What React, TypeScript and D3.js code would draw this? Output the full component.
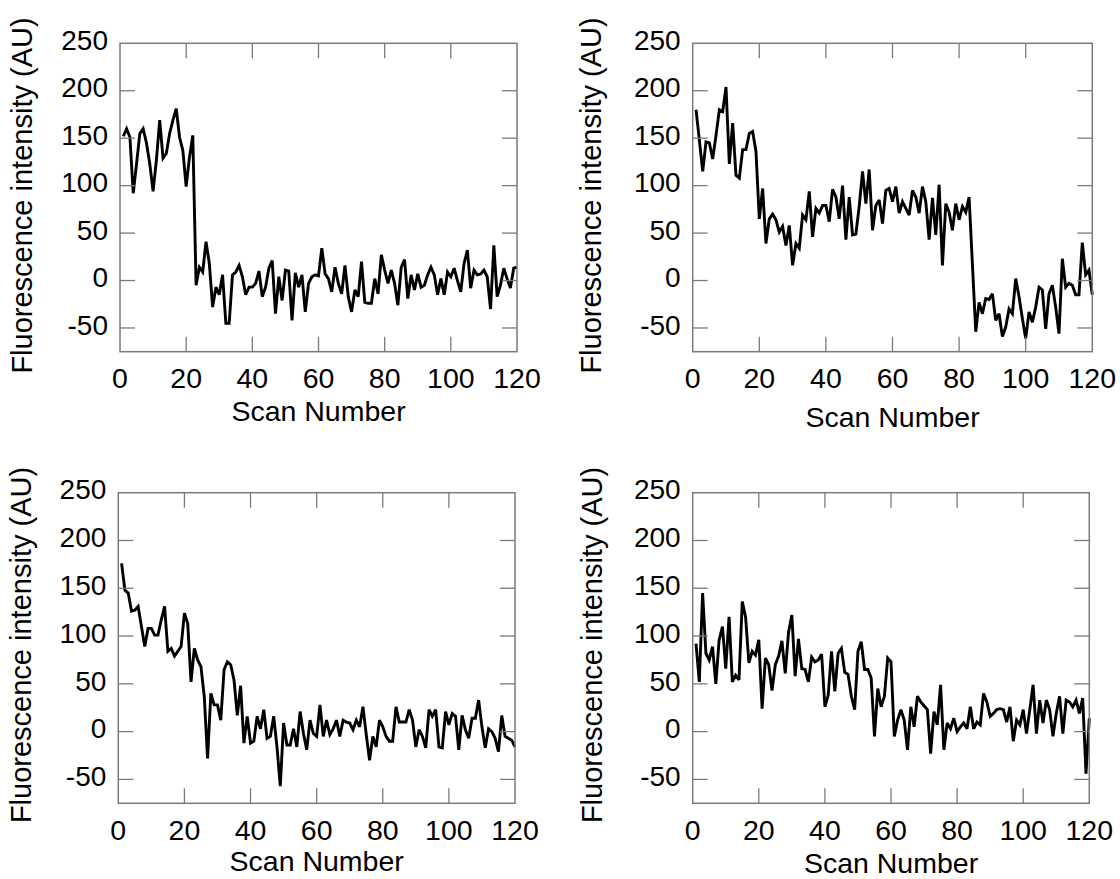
import React from "react";
import * as d3 from "d3";

// Scan numbers 1..120
const scans: number[] = d3.range(1, 121);

const panel1: number[] = [
  152, 160, 151, 92, 123, 155, 160, 145, 123, 94, 127, 169, 129, 134, 155, 169, 181, 151, 137, 99,
  130, 153, -5, 14, 9, 41, 18, -28, -7, -15, 6, -45, -45, 6, 9, 16, 4, -15, -7, -7,
  -3, 10, -17, -7, 13, 21, -35, 4, -21, 11, 10, -42, 8, -7, 6, -33, -3, 4, 6, 5,
  34, 7, 2, -12, 14, -3, -14, 16, -17, -33, -10, -17, 20, -23, -24, -24, 2, -14, 27, 11,
  -3, 11, -3, -26, 14, 22, -19, 6, -10, 7, -7, -5, 6, 14, 6, -15, 2, -15, 9, 4,
  13, 0, -12, 18, 32, -8, 11, 6, 7, 11, 4, -30, 37, -17, -5, 13, 2, -8, 13, 14,
];

const panel2: number[] = [
  180, 148, 115, 146, 145, 128, 153, 180, 178, 204, 123, 166, 111, 108, 138, 138, 155, 157, 136, 65,
  97, 39, 65, 70, 64, 51, 57, 37, 58, 16, 39, 34, 69, 64, 94, 46, 76, 71, 79, 79,
  62, 96, 88, 65, 100, 43, 88, 48, 49, 78, 115, 81, 117, 53, 79, 85, 60, 95, 97, 83,
  99, 71, 83, 76, 69, 95, 88, 71, 99, 83, 43, 87, 48, 101, 16, 81, 72, 53, 81, 64,
  78, 72, 88, 17, -54, -23, -35, -19, -20, -14, -42, -35, -59, -49, -30, -35, 2, -17, -40, -61,
  -33, -44, -28, -7, -10, -51, -14, -5, -28, -56, 23, -7, -3, -5, -15, -15, 40, 6, 11, -15,
];

const panel3: number[] = [
  176, 148, 145, 126, 127, 131, 110, 89, 108, 108, 101, 101, 117, 131, 84, 87, 79, 84, 89, 124,
  113, 52, 87, 75, 68, 37, -28, 40, 28, 28, 12, 65, 73, 70, 54, 17, 48, -12, 16, -12,
  -10, 16, 3, 23, -7, -5, 16, -16, -57, 9, -14, -14, 3, -16, 21, -2, -19, 12, -2, -5,
  28, -5, 12, -3, 3, 12, -5, 12, 10, 9, 2, 12, 5, 26, -3, -30, -5, -16, 12, 5,
  -5, -10, -10, 26, 10, 10, 10, 23, 12, -16, 2, -5, -17, 23, 16, 23, -16, -17, 21, 7,
  19, 16, -19, 17, 2, -7, 14, 14, 33, 5, -17, 3, 0, -7, -21, 17, -5, -7, -9, -16,
];

const panel4: number[] = [
  92, 52, 145, 82, 75, 89, 50, 96, 110, 66, 120, 52, 59, 54, 136, 120, 72, 84, 80, 96,
  24, 77, 70, 43, 70, 79, 95, 61, 104, 122, 58, 97, 66, 65, 52, 78, 73, 75, 81, 26,
  38, 84, 42, 82, 87, 62, 60, 37, 23, 84, 94, 65, 65, 56, -5, 45, 26, 37, 77, 73,
  -5, 12, 23, 12, -19, 26, 5, 37, 31, 27, 23, -23, 21, 7, 49, -19, 9, 3, 14, 0,
  5, 9, 3, 26, 3, 10, 7, 40, 31, 16, 19, 23, 24, 23, 10, 26, -10, 12, 7, 23,
  -2, 23, 49, -2, 33, 9, 33, 23, -5, 19, 37, -2, 33, 31, 26, 33, 19, 35, -44, 14,
];

const xTicks: number[] = [0, 20, 40, 60, 80, 100, 120];
const yTicks: number[] = [-50, 0, 50, 100, 150, 200, 250];
const xDomain: [number, number] = [0, 120];
const yDomain: [number, number] = [-75, 250];
const xTitle = "Scan Number";
const yTitle = "Fluorescence intensity (AU)";

const layouts = [
  { data: panel1, left: 120, right: 517, top: 43.3, bottom: 351.7, xTitleBase: 421, yTitleX: 32, yTitleShift: -2 },
  { data: panel2, left: 692.7, right: 1092.3, top: 43.3, bottom: 351.7, xTitleBase: 426.5, yTitleX: 601, yTitleShift: -2 },
  { data: panel3, left: 118.3, right: 515, top: 492.7, bottom: 803.3, xTitleBase: 871, yTitleX: 31, yTitleShift: -3 },
  { data: panel4, left: 692.7, right: 1089.3, top: 492.7, bottom: 803.3, xTitleBase: 872.5, yTitleX: 602, yTitleShift: -3 },
];

const FONT = "'Liberation Sans', Arial, Helvetica, sans-serif";
const FRAME = "#7a7a7a";

function Panel({ p }: { p: (typeof layouts)[number] }) {
  const x = d3.scaleLinear().domain(xDomain).range([p.left, p.right]);
  const y = d3.scaleLinear().domain(yDomain).range([p.bottom, p.top]);
  const line = d3
    .line<number>()
    .x((_, i) => x(scans[i]))
    .y((d) => y(d));
  const tickLen = 15;
  const midY = (p.top + p.bottom) / 2 + p.yTitleShift;
  return (
    <g>
      <path d={line(p.data) || ""} fill="none" stroke="#000" strokeWidth={2.9} strokeLinejoin="miter" strokeMiterlimit={3} />
      <rect x={p.left} y={p.top} width={p.right - p.left} height={p.bottom - p.top} fill="none" stroke={FRAME} strokeWidth={1.5} />
      {xTicks.filter((t) => t > xDomain[0] && t < xDomain[1]).map((t) => (
        <g key={"xt" + t}>
          <line x1={x(t)} x2={x(t)} y1={p.bottom} y2={p.bottom - tickLen} stroke={FRAME} strokeWidth={1.3} />
          <line x1={x(t)} x2={x(t)} y1={p.top} y2={p.top + tickLen} stroke={FRAME} strokeWidth={1.3} />
        </g>
      ))}
      {yTicks.filter((t) => t > yDomain[0] && t < yDomain[1]).map((t) => (
        <g key={"yt" + t}>
          <line x1={p.left} x2={p.left + tickLen} y1={y(t)} y2={y(t)} stroke={FRAME} strokeWidth={1.3} />
          <line x1={p.right} x2={p.right - tickLen} y1={y(t)} y2={y(t)} stroke={FRAME} strokeWidth={1.3} />
        </g>
      ))}
      {xTicks.map((t) => (
        <text key={"xl" + t} x={x(t)} y={p.bottom + 36.6} textAnchor="middle" fontSize={28.5} fontFamily={FONT} fill="#000">
          {t}
        </text>
      ))}
      {yTicks.map((t) => (
        <text key={"yl" + t} x={p.left - 12} y={y(t) + 6.7} textAnchor="end" fontSize={28} fontFamily={FONT} fill="#000">
          {t}
        </text>
      ))}
      <text x={(p.left + p.right) / 2} y={p.xTitleBase} textAnchor="middle" fontSize={28.5} fontFamily={FONT} fill="#000">
        {xTitle}
      </text>
      <text
        transform={`translate(${p.yTitleX},${midY}) rotate(-90)`}
        textAnchor="middle"
        fontSize={29}
        fontFamily={FONT}
        fill="#000"
      >
        {yTitle}
      </text>
    </g>
  );
}

export default function App() {
  return (
    <svg
      width={1120}
      height={879}
      viewBox="0 0 1120 879"
      style={{ position: "absolute", left: 0, top: 0, background: "#fff" }}
    >
      <rect x={0} y={0} width={1120} height={879} fill="#fff" />
      {layouts.map((p, i) => (
        <Panel key={i} p={p} />
      ))}
    </svg>
  );
}
